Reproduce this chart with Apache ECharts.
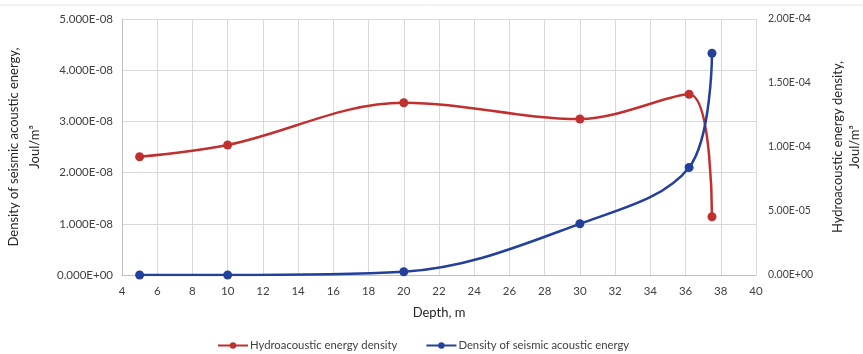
<!DOCTYPE html>
<html>
<head>
<meta charset="utf-8">
<script src="https://cdn.jsdelivr.net/npm/echarts@6/dist/echarts.min.js"></script>
<style>html,body{margin:0;padding:0;background:#fff}#c{width:863px;height:354px}</style>
</head>
<body>
<div id="c"></div>
<script>
const depthHydro = [5, 10, 20, 30, 36.2, 37.5];
const hydroValues = [9.24e-5, 1.016e-4, 1.346e-4, 1.219e-4, 1.412e-4, 4.55e-5];
const depthSeismic = [5, 10, 20, 30, 36.2, 37.5];
const seismicValues = [0, 0, 6.4e-10, 1.0e-8, 2.1e-8, 4.33e-8];
const seriesNames = ['Hydroacoustic energy density', 'Density of seismic acoustic energy'];

function expFmt(v, d) {
  let s = Number(v).toExponential(d).toUpperCase();
  return s.replace(/E([+-])(\d)$/, 'E$10$2');
}
const FONT = 'Lato';
const chart = echarts.init(document.getElementById('c'));
chart.setOption({
  animation: false,
  textStyle: { fontFamily: FONT },
  graphic: [{ type: 'line', shape: { x1: 0, y1: 5, x2: 863, y2: 5 }, style: { stroke: '#e6e6e6', lineWidth: 1 } }],
  grid: { left: 122, right: 107, top: 19, bottom: 79, containLabel: false, outerBoundsMode: 'none' },
  legend: {
    bottom: -2, left: 212, itemWidth: 30, itemHeight: 8, itemGap: 28,
    textStyle: { fontSize: 11.3, color: '#404040', fontFamily: FONT, padding: [0, 0, 0, -3] },
    data: seriesNames
  },
  xAxis: {
    type: 'value', min: 4, max: 40, interval: 2,
    name: 'Depth, m', nameLocation: 'middle', nameGap: 31,
    nameTextStyle: { fontSize: 13, color: '#262626', fontFamily: FONT },
    axisLine: { show: true, lineStyle: { color: '#bfbfbf' } },
    axisTick: { show: false },
    axisLabel: { fontSize: 11.5, color: '#404040', margin: 10 },
    splitLine: { show: true, lineStyle: { color: '#d9d9d9' } }
  },
  yAxis: [{
    type: 'value', min: 0, max: 5e-8, interval: 1e-8,
    name: 'Density of seismic acoustic energy,\nJoul/m³', nameLocation: 'middle', nameGap: 77, nameRotate: 90,
    nameTextStyle: { fontSize: 13, color: '#262626', lineHeight: 21, fontFamily: FONT },
    axisLine: { show: true, lineStyle: { color: '#bfbfbf' } },
    axisTick: { show: false },
    axisLabel: { fontSize: 11.5, color: '#404040', margin: 9, formatter: v => expFmt(v, 3) },
    splitLine: { show: true, lineStyle: { color: '#d9d9d9' } }
  }, {
    type: 'value', min: 0, max: 2e-4, interval: 5e-5, position: 'right',
    name: 'Hydroacoustic energy density,\nJoul/m³', nameLocation: 'middle', nameGap: 73, nameRotate: 90,
    nameTextStyle: { fontSize: 13, color: '#262626', lineHeight: 17, fontFamily: FONT },
    axisLine: { show: true, lineStyle: { color: '#d9d9d9' } },
    axisTick: { show: false },
    axisLabel: { fontSize: 10.5, color: '#404040', margin: 12, formatter: v => expFmt(v, 2) },
    splitLine: { show: false }
  }],
  series: [{
    name: seriesNames[0], type: 'line', yAxisIndex: 1, smooth: 0.35,
    data: depthHydro.map((d, i) => [d, hydroValues[i]]),
    symbol: 'circle', symbolSize: 9,
    itemStyle: { color: '#c0302f' }, lineStyle: { color: '#c0302f', width: 2.5 }
  }, {
    name: seriesNames[1], type: 'line', yAxisIndex: 0, smooth: 0.35,
    data: depthSeismic.map((d, i) => [d, seismicValues[i]]),
    symbol: 'circle', symbolSize: 9,
    itemStyle: { color: '#23409a' }, lineStyle: { color: '#23409a', width: 2.5 }
  }]
});
</script>
</body>
</html>
